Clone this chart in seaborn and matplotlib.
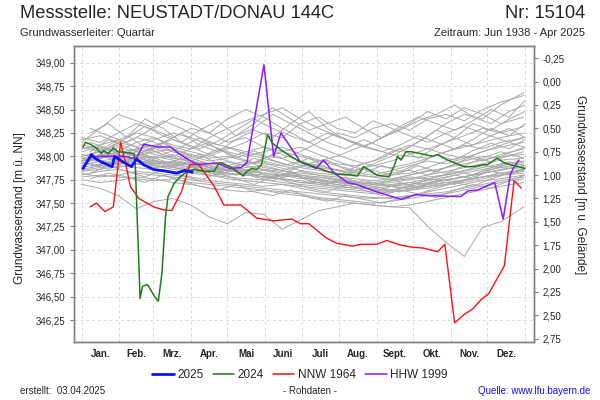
import numpy as np
import pandas as pd
import matplotlib
matplotlib.use('Agg')
import matplotlib.pyplot as plt
import seaborn as sns
from matplotlib.lines import Line2D

sns.set_style('white')
plt.rcParams['font.family'] = ['Liberation Sans', 'DejaVu Sans']

months = ['Jan.', 'Feb.', 'Mrz.', 'Apr.', 'Mai', 'Juni', 'Juli', 'Aug.', 'Sept.', 'Okt.', 'Nov.', 'Dez.']
month_starts = [0, 31, 59, 90, 120, 151, 181, 212, 243, 273, 304, 334, 365]
ground = 348.80  # Gelaendehoehe [m ue. NN]

# 2025
days_2025 = [1, 8, 11, 16, 25, 27, 34, 41, 45, 51, 59, 70, 78, 85, 91]
lev_2025 = [347.87, 348.02, 347.98, 347.94, 347.89, 348.00, 347.94, 347.89, 347.97, 347.91,
            347.86, 347.84, 347.82, 347.85, 347.83]

# 2024
days_2024 = [1, 3, 7, 12, 16, 18, 22, 26, 30, 38, 43, 44, 45, 47, 48, 50, 54, 56, 60, 63,
             66, 69, 71, 76, 81, 87, 93, 100, 109, 113, 115, 122, 133, 136, 140, 144, 148, 153, 157, 164,
             172, 180, 191, 202, 210, 221, 227, 232, 236, 243, 253, 257, 260, 263, 267, 271, 279, 289, 293, 298,
             307, 315, 323, 330, 334, 342, 348, 353, 359, 365]
lev_2024 = [348.10, 348.15, 348.13, 348.09, 348.03, 348.06, 348.03, 348.09, 348.05, 348.04,
            348.03, 347.93, 347.57, 346.86, 346.48, 346.61, 346.63, 346.59, 346.50, 346.45,
            346.75, 347.36, 347.57, 347.71, 347.78, 347.84, 347.86, 347.84, 347.84, 347.93,
            347.93, 347.89, 347.79, 347.84, 347.87, 347.86, 347.91, 348.23, 348.14, 348.07,
            348.00, 347.94, 347.89, 347.84, 347.81, 347.80, 347.79, 347.89, 347.86, 347.80,
            347.78, 347.89, 348.00, 347.96, 348.05, 348.05, 348.03, 348.00, 348.02, 347.98,
            347.93, 347.89, 347.89, 347.91, 347.91, 347.98, 347.93, 347.91, 347.89, 347.87]

# NNW 1964
days_nnw = [7, 12, 19, 26, 32, 36, 40, 47, 59, 67, 74, 82, 89, 96, 109, 117, 131, 144, 158, 173,
            180, 187, 201, 210, 223, 230, 243, 251, 263, 271, 281, 293, 299, 307, 315, 322, 329, 335, 348, 356,
            362]
lev_nnw = [347.46, 347.50, 347.41, 347.46, 348.15, 347.93, 347.68, 347.55, 347.46, 347.43,
           347.42, 347.62, 347.91, 347.92, 347.68, 347.48, 347.48, 347.34, 347.31, 347.33,
           347.28, 347.28, 347.13, 347.07, 347.04, 347.06, 347.06, 347.10, 347.05, 347.03,
           347.02, 346.98, 347.06, 346.22, 346.31, 346.37, 346.47, 346.53, 346.83, 347.74,
           347.66]

# HHW 1999
days_hhw = [8, 15, 18, 37, 41, 45, 51, 63, 73, 81, 95, 111, 122, 131, 136, 150, 158, 164, 172, 180,
            193, 199, 208, 219, 226, 243, 263, 275, 287, 312, 318, 326, 340, 347, 353, 356, 360]
lev_hhw = [347.99, 348.00, 348.00, 348.00, 347.98, 347.98, 348.13, 348.10, 348.10, 348.02,
           347.91, 347.93, 347.87, 347.88, 347.93, 348.98, 348.00, 348.25, 348.10, 347.94,
           347.87, 347.96, 347.82, 347.72, 347.70, 347.62, 347.54, 347.59, 347.58, 347.57,
           347.63, 347.64, 347.72, 347.33, 347.81, 347.89, 347.96]

# uebrige Jahre (Halbmonatswerte), zwei Messrhythmen
gray_days_a = [0, 15, 30, 45, 60, 75, 90, 105, 120, 135, 150, 165, 180, 195, 210, 225, 240, 255, 270, 285,
               300, 315, 330, 345, 364]
gray_levels_a = [
    [348.15, 348.30, 348.45, 348.38, 348.30, 348.42, 348.35, 348.25, 348.40, 348.50, 348.42, 348.30, 348.20, 348.10, 348.02, 347.95, 347.90, 347.88, 347.92, 347.98, 348.05, 348.10, 348.15, 348.20, 348.25],
    [347.90, 347.95, 347.92, 348.00, 348.05, 347.98, 347.95, 348.02, 348.10, 348.05, 348.00, 347.98, 348.05, 348.15, 348.25, 348.20, 348.30, 348.35, 348.28, 348.40, 348.45, 348.38, 348.50, 348.58, 348.65],
    [348.05, 348.10, 348.05, 348.15, 348.20, 348.12, 348.08, 348.20, 348.30, 348.38, 348.45, 348.52, 348.40, 348.30, 348.22, 348.15, 348.08, 348.02, 348.00, 347.98, 348.05, 348.12, 348.08, 348.15, 348.20],
    [348.10, 348.05, 348.15, 348.25, 348.20, 348.10, 348.05, 348.00, 348.08, 348.15, 348.25, 348.20, 348.35, 348.42, 348.30, 348.25, 348.38, 348.30, 348.22, 348.15, 348.25, 348.32, 348.25, 348.18, 348.10],
    [347.95, 348.00, 348.10, 348.05, 347.98, 348.02, 347.95, 347.90, 347.88, 347.92, 347.95, 347.90, 347.85, 347.82, 347.80, 347.85, 347.92, 348.00, 348.10, 348.22, 348.35, 348.45, 348.40, 348.55, 348.68],
    [348.20, 348.15, 348.25, 348.35, 348.28, 348.20, 348.30, 348.25, 348.15, 348.20, 348.10, 348.05, 348.00, 347.95, 348.00, 348.08, 348.15, 348.25, 348.35, 348.48, 348.40, 348.52, 348.45, 348.35, 348.42],
    [348.08, 348.12, 348.18, 348.10, 348.05, 348.08, 348.02, 347.98, 348.00, 347.95, 347.92, 347.90, 347.95, 347.88, 347.85, 347.82, 347.80, 347.85, 347.90, 347.95, 347.92, 347.98, 348.05, 348.10, 348.15],
    [348.00, 348.05, 348.12, 348.20, 348.15, 348.05, 348.00, 347.95, 347.98, 348.05, 348.10, 348.02, 347.95, 347.90, 347.85, 347.80, 347.78, 347.82, 347.85, 347.80, 347.88, 347.95, 348.00, 347.98, 348.05],
    [347.98, 348.02, 348.00, 348.08, 348.12, 348.18, 348.10, 348.02, 347.95, 347.90, 347.98, 348.05, 348.10, 348.02, 347.95, 347.88, 347.85, 347.80, 347.82, 347.88, 347.95, 348.00, 347.95, 348.02, 348.08],
    [348.12, 348.08, 348.05, 348.00, 348.10, 348.05, 347.98, 347.92, 347.90, 347.95, 347.88, 347.85, 347.90, 347.95, 347.90, 347.85, 347.90, 347.95, 348.02, 348.08, 348.02, 347.98, 348.05, 348.12, 348.20],
    [347.92, 347.98, 348.05, 348.02, 347.98, 348.00, 348.08, 348.15, 348.10, 348.02, 347.98, 347.92, 347.88, 347.85, 347.82, 347.80, 347.78, 347.75, 347.80, 347.85, 347.82, 347.90, 347.98, 348.05, 347.98],
    [348.18, 348.22, 348.15, 348.10, 348.18, 348.25, 348.20, 348.12, 348.05, 348.00, 348.05, 348.10, 348.02, 347.96, 347.92, 347.90, 347.95, 348.05, 348.12, 348.08, 348.15, 348.22, 348.30, 348.25, 348.32],
    [347.95, 347.98, 348.00, 347.96, 347.92, 347.95, 347.90, 347.86, 347.88, 347.84, 347.82, 347.80, 347.78, 347.75, 347.72, 347.70, 347.68, 347.70, 347.72, 347.70, 347.75, 347.78, 347.82, 347.85, 347.90],
    [347.90, 347.95, 347.98, 348.02, 347.98, 347.92, 347.88, 347.90, 347.85, 347.82, 347.85, 347.80, 347.76, 347.78, 347.74, 347.70, 347.72, 347.68, 347.66, 347.70, 347.72, 347.75, 347.78, 347.82, 347.86],
    [347.98, 347.95, 347.92, 347.98, 348.00, 347.96, 347.92, 347.88, 347.84, 347.86, 347.82, 347.78, 347.80, 347.76, 347.72, 347.74, 347.70, 347.72, 347.75, 347.78, 347.80, 347.84, 347.88, 347.92, 347.95],
    [347.88, 347.92, 347.95, 347.92, 347.90, 347.88, 347.85, 347.82, 347.80, 347.82, 347.78, 347.76, 347.74, 347.70, 347.68, 347.66, 347.65, 347.64, 347.66, 347.68, 347.70, 347.74, 347.78, 347.80, 347.84],
    [347.92, 348.00, 348.05, 348.00, 347.95, 347.90, 347.92, 347.88, 347.85, 347.88, 347.90, 347.85, 347.80, 347.78, 347.75, 347.72, 347.70, 347.74, 347.78, 347.76, 347.80, 347.85, 347.90, 347.88, 347.92],
    [347.85, 347.88, 347.92, 347.95, 347.90, 347.86, 347.84, 347.80, 347.78, 347.76, 347.75, 347.72, 347.70, 347.68, 347.66, 347.64, 347.62, 347.64, 347.68, 347.72, 347.75, 347.78, 347.82, 347.86, 347.90],
    [348.00, 348.05, 348.02, 347.96, 347.92, 347.94, 347.90, 347.86, 347.82, 347.80, 347.78, 347.80, 347.84, 347.80, 347.76, 347.72, 347.70, 347.68, 347.70, 347.74, 347.78, 347.82, 347.86, 347.90, 347.94],
    [347.94, 347.90, 347.94, 347.98, 347.94, 347.90, 347.86, 347.84, 347.86, 347.82, 347.80, 347.76, 347.72, 347.70, 347.68, 347.66, 347.66, 347.68, 347.72, 347.76, 347.74, 347.78, 347.84, 347.88, 347.86],
    [347.86, 347.90, 347.88, 347.92, 347.96, 347.92, 347.88, 347.84, 347.82, 347.80, 347.78, 347.76, 347.72, 347.72, 347.70, 347.68, 347.64, 347.62, 347.64, 347.66, 347.70, 347.72, 347.76, 347.80, 347.82],
    [348.02, 347.98, 348.04, 348.08, 348.02, 347.98, 347.95, 347.92, 347.94, 347.90, 347.86, 347.84, 347.82, 347.80, 347.78, 347.76, 347.74, 347.76, 347.80, 347.84, 347.88, 347.92, 347.96, 348.00, 348.02],
    [347.84, 347.86, 347.90, 347.88, 347.86, 347.84, 347.82, 347.80, 347.76, 347.74, 347.72, 347.70, 347.68, 347.66, 347.64, 347.62, 347.60, 347.62, 347.64, 347.68, 347.72, 347.74, 347.78, 347.82, 347.85],
    [347.96, 348.00, 347.96, 347.92, 347.88, 347.90, 347.94, 347.90, 347.86, 347.84, 347.86, 347.82, 347.78, 347.74, 347.72, 347.70, 347.72, 347.74, 347.76, 347.80, 347.84, 347.88, 347.92, 347.96, 347.98],
    [347.80, 347.84, 347.86, 347.82, 347.80, 347.78, 347.75, 347.72, 347.70, 347.68, 347.66, 347.64, 347.62, 347.60, 347.58, 347.56, 347.55, 347.56, 347.58, 347.60, 347.62, 347.66, 347.70, 347.74, 347.78],
    [347.78, 347.80, 347.78, 347.76, 347.74, 347.76, 347.72, 347.70, 347.68, 347.66, 347.64, 347.62, 347.60, 347.56, 347.54, 347.52, 347.50, 347.52, 347.55, 347.58, 347.60, 347.64, 347.68, 347.72, 347.76],
    [347.75, 347.72, 347.74, 347.78, 347.76, 347.72, 347.70, 347.66, 347.64, 347.62, 347.64, 347.60, 347.58, 347.55, 347.52, 347.50, 347.48, 347.46, 347.48, 347.52, 347.56, 347.60, 347.64, 347.68, 347.72],
    [347.82, 347.78, 347.80, 347.84, 347.82, 347.80, 347.78, 347.74, 347.72, 347.70, 347.68, 347.70, 347.66, 347.62, 347.60, 347.58, 347.56, 347.55, 347.58, 347.62, 347.66, 347.70, 347.74, 347.76, 347.80],
    [347.70, 347.66, 347.58, 347.44, 347.52, 347.55, 347.48, 347.35, 347.28, 347.40, 347.38, 347.22, 347.32, 347.42, 347.46, 347.50, 347.48, 347.46, 347.45, 347.25, 347.08, 346.93, 347.24, 347.30, 347.46],
]
gray_days_b = [7, 22, 37, 52, 67, 82, 97, 112, 127, 142, 157, 172, 187, 202, 217, 232, 247, 262, 277, 292,
               307, 322, 337, 352, 365]
gray_levels_b = [
    [348.25, 348.35, 348.20, 348.40, 348.30, 348.15, 348.28, 348.38, 348.22, 348.30, 348.45, 348.35, 348.25, 348.15, 348.08, 348.18, 348.10, 348.05, 348.15, 348.28, 348.20, 348.35, 348.28, 348.40, 348.48],
    [348.05, 348.18, 348.10, 348.02, 348.15, 348.25, 348.12, 348.05, 348.18, 348.28, 348.20, 348.35, 348.48, 348.30, 348.18, 348.10, 348.05, 348.12, 348.22, 348.15, 348.08, 348.18, 348.30, 348.22, 348.35],
    [347.95, 348.08, 347.98, 348.12, 348.05, 347.96, 348.02, 347.92, 347.88, 347.98, 347.90, 347.85, 347.92, 347.84, 347.80, 347.86, 347.78, 347.82, 347.90, 347.84, 347.92, 348.00, 347.94, 348.04, 348.10],
    [347.88, 347.94, 348.04, 347.96, 347.90, 347.98, 347.88, 347.82, 347.90, 347.80, 347.76, 347.84, 347.74, 347.70, 347.78, 347.68, 347.64, 347.72, 347.66, 347.74, 347.80, 347.76, 347.86, 347.92, 347.88],
    [348.10, 348.02, 347.96, 348.06, 348.14, 348.04, 347.98, 348.08, 348.00, 347.92, 348.02, 347.94, 347.88, 347.96, 347.86, 347.82, 347.90, 347.84, 347.92, 348.02, 347.96, 348.06, 348.14, 348.08, 348.18],
    [347.82, 347.90, 347.84, 347.78, 347.86, 347.80, 347.74, 347.82, 347.76, 347.70, 347.78, 347.72, 347.66, 347.62, 347.70, 347.64, 347.58, 347.64, 347.60, 347.66, 347.72, 347.68, 347.76, 347.82, 347.86],
    [348.30, 348.22, 348.15, 348.25, 348.38, 348.30, 348.20, 348.12, 348.22, 348.35, 348.52, 348.40, 348.28, 348.35, 348.42, 348.30, 348.20, 348.28, 348.38, 348.45, 348.55, 348.42, 348.35, 348.48, 348.55],
    [347.98, 347.92, 348.00, 347.94, 347.88, 347.94, 347.86, 347.80, 347.86, 347.78, 347.74, 347.80, 347.76, 347.72, 347.68, 347.74, 347.70, 347.66, 347.72, 347.78, 347.84, 347.80, 347.88, 347.94, 347.90],
    [348.02, 348.12, 348.22, 348.10, 348.02, 348.10, 348.20, 348.08, 347.98, 348.06, 347.96, 347.90, 347.98, 347.88, 347.84, 347.92, 347.98, 348.08, 347.98, 348.10, 348.20, 348.12, 348.22, 348.30, 348.20],
    [347.76, 347.82, 347.78, 347.72, 347.80, 347.74, 347.68, 347.64, 347.70, 347.62, 347.58, 347.64, 347.56, 347.52, 347.58, 347.54, 347.50, 347.55, 347.60, 347.56, 347.64, 347.70, 347.66, 347.74, 347.80],
    [347.92, 347.86, 347.94, 348.00, 347.92, 347.86, 347.92, 347.84, 347.80, 347.84, 347.78, 347.82, 347.74, 347.70, 347.76, 347.70, 347.66, 347.62, 347.68, 347.74, 347.70, 347.78, 347.84, 347.80, 347.88],
    [348.15, 348.08, 348.20, 348.32, 348.22, 348.15, 348.08, 348.16, 348.28, 348.40, 348.30, 348.22, 348.15, 348.25, 348.18, 348.10, 348.20, 348.32, 348.42, 348.35, 348.28, 348.38, 348.50, 348.42, 348.60],
]

rows = []
for i, row in enumerate(gray_levels_a):
    rows += [(i, d, v) for d, v in zip(gray_days_a, row)]
for i, row in enumerate(gray_levels_b):
    rows += [(100 + i, d, v) for d, v in zip(gray_days_b, row)]
gray_df = pd.DataFrame(rows, columns=['jahr', 'tag', 'stand'])

fig = plt.figure(figsize=(6, 4), dpi=100)
ax = fig.add_axes([74 / 600, 0.145, 460 / 600, 0.74])

sns.lineplot(data=gray_df, x='tag', y='stand', units='jahr', estimator=None, color='#a9a9a9',
             linewidth=0.7, ax=ax, legend=False)
sns.lineplot(x=days_nnw, y=lev_nnw, estimator=None, color='#ff1010', linewidth=1.0, ax=ax)
sns.lineplot(x=days_hhw, y=lev_hhw, estimator=None, color='#8c1aff', linewidth=1.1, ax=ax)
sns.lineplot(x=days_2024, y=lev_2024, estimator=None, color='#1e7b1e', linewidth=1.1, ax=ax)
sns.lineplot(x=days_2025, y=lev_2025, estimator=None, color='#1010ff', linewidth=2.0, ax=ax)

y0, y1 = 346.015, 349.18
ax.set_xlim(-6.4, 372.4)
ax.set_ylim(y0, y1)
ax.set_xlabel('')
ax.set_ylabel('')

lticks = np.arange(346.25, 349.01, 0.25)
ax.set_yticks(lticks)
ax.set_yticklabels([f'{v:.2f}'.replace('.', ',') for v in lticks], fontsize=7)
centers = [(a + b) / 2 for a, b in zip(month_starts[:-1], month_starts[1:])]
ax.set_xticks(centers)
ax.set_xticklabels(months, fontsize=7, fontweight='bold')
ax.set_xticks(month_starts, minor=True)
ax.tick_params(axis='x', which='major', length=0, pad=5)
ax.tick_params(axis='x', which='minor', length=4, color='#808080', direction='out')
ax.tick_params(axis='y', length=3, color='#808080', direction='out', pad=3)
ax.grid(axis='y', which='major', linestyle=(0, (3, 3)), color='#d9d9d9', linewidth=0.7)
ax.grid(axis='x', which='minor', linestyle=(0, (3, 3)), color='#d9d9d9', linewidth=0.7)
ax.grid(axis='x', which='major', visible=False)
for s in ax.spines.values():
    s.set_color('#808080')
    s.set_linewidth(1.0)

ax2 = ax.twinx()
ax2.set_ylim(ground - y0, ground - y1)
rticks = np.arange(-0.25, 2.76, 0.25)
ax2.set_yticks(rticks)
ax2.set_yticklabels([f'{round(v, 2) + 0.0:.2f}'.replace('.', ',') for v in rticks], fontsize=7)
ax2.tick_params(axis='y', length=3, color='#808080', direction='out', pad=3)
ax2.grid(False)
for s in ax2.spines.values():
    s.set_color('#808080')
    s.set_linewidth(1.0)

fig.text(20 / 600, 1 - 13 / 400, 'Messstelle: NEUSTADT/DONAU 144C', fontsize=13.2, va='center')
fig.text(585 / 600, 1 - 13 / 400, 'Nr: 15104', fontsize=13.2, va='center', ha='right')
fig.text(20 / 600, 1 - 33 / 400, 'Grundwasserleiter: Quartär', fontsize=8, va='center')
fig.text(585 / 600, 1 - 33 / 400, 'Zeitraum: Jun 1938 - Apr 2025', fontsize=8, va='center', ha='right')
fig.text(20 / 600, 0.48, 'Grundwasserstand [m ü. NN]', fontsize=8.5, rotation=90, va='center', ha='center')
fig.text(580 / 600, 0.5375, 'Grundwasserstand [m u. Gelände]', fontsize=8.5, rotation=270,
         va='center', ha='center')

handles = [Line2D([], [], color='#1010ff', lw=2.0), Line2D([], [], color='#1e7b1e', lw=1.1),
           Line2D([], [], color='#ff1010', lw=1.1), Line2D([], [], color='#8c1aff', lw=1.1)]
fig.legend(handles, ['2025', '2024', 'NNW 1964', 'HHW 1999'], loc='center', ncol=4,
           bbox_to_anchor=(0.5, 1 - 375 / 400), frameon=False, fontsize=8.5,
           handlelength=1.8, handletextpad=0.3, columnspacing=0.8)

fig.text(20 / 600, 1 - 391 / 400, 'erstellt:  03.04.2025', fontsize=7, va='center')
fig.text(310 / 600, 1 - 391 / 400, '- Rohdaten -', fontsize=7, va='center', ha='center')
fig.text(590 / 600, 1 - 391 / 400, 'Quelle: www.lfu.bayern.de', fontsize=7, va='center', ha='right',
         color='#1010ff')

fig.savefig('out.png', dpi=100)
